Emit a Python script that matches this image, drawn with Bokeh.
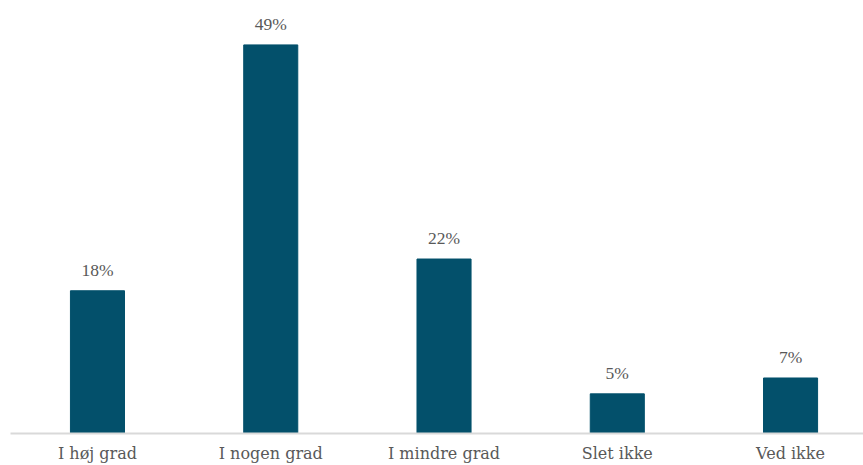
from bokeh.plotting import figure
from bokeh.models import Range1d, ColumnDataSource, LabelSet, FixedTicker
from bokeh.embed import file_html
from bokeh.resources import INLINE

categories = ["I høj grad", "I nogen grad", "I mindre grad", "Slet ikke", "Ved ikke"]
values = [18, 49, 22, 5, 7]
labels = [f"{v}%" for v in values]

xs = list(range(len(categories)))
src = ColumnDataSource(dict(x=xs, top=values, label=labels))

p = figure(width=863, height=465, output_backend="svg", toolbar_location=None,
           x_range=Range1d(-0.502, 4.421), y_range=Range1d(0, 54.6),
           min_border_left=10, min_border_right=0, min_border_top=0, min_border_bottom=0)
p.outline_line_color = None
p.grid.visible = False
p.yaxis.visible = False
p.background_fill_color = "white"
p.border_fill_color = "white"

p.vbar(x="x", top="top", width=0.312, bottom=0, source=src, color="#03506b")

lab = LabelSet(x="x", y="top", text="label", source=src, text_align="center",
               text_baseline="bottom", y_offset=11, text_font="DejaVu Serif",
               text_font_size="17.5px", text_color="#595959")
p.add_layout(lab)

ax = p.xaxis[0]
ax.ticker = FixedTicker(ticks=xs)
ax.major_label_overrides = {i: c for i, c in enumerate(categories)}
ax.major_tick_line_color = None
ax.minor_tick_line_color = None
ax.axis_line_color = "#d9d9d9"
ax.axis_line_width = 2
ax.major_label_text_font = "DejaVu Serif"
ax.major_label_text_font_size = "16px"
ax.major_label_text_color = "#595959"
ax.major_label_standoff = 4

open("out.html", "w").write(file_html(p, INLINE))
